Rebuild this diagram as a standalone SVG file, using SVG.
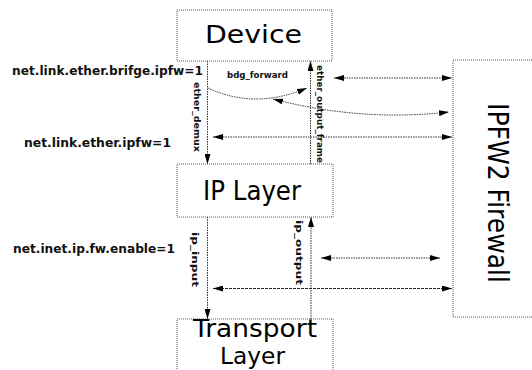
<svg xmlns="http://www.w3.org/2000/svg" width="532" height="370" viewBox="0 0 532 370">
  <style>
    .box { fill: #ffffff; stroke: #555555; stroke-width: 1; stroke-dasharray: 1 1; }
    .big { font-family: "DejaVu Sans", sans-serif; fill: #000000; }
    .param { font-family: "DejaVu Sans", sans-serif; font-weight: bold; font-size: 12px; fill: #111111; }
    .fn { font-family: "DejaVu Sans", sans-serif; font-weight: bold; font-size: 9px; fill: #111111; }
    .link { fill: none; stroke: #333333; stroke-width: 1; stroke-dasharray: 1.5 1; }
    .solid { stroke: #222222; stroke-dasharray: 3 1; }
  </style>
  <defs>
    <marker id="head" viewBox="0 0 10 6" refX="10" refY="3" markerWidth="10" markerHeight="6" markerUnits="userSpaceOnUse" orient="auto-start-reverse">
      <path d="M0,0 L10,3 L0,6 Z" fill="#000000"/>
    </marker>
  </defs>

  <!-- nodes -->
  <g id="device">
    <rect class="box" x="177" y="10" width="155" height="51"/>
    <text class="big" x="205" y="43" font-size="25" textLength="97" lengthAdjust="spacingAndGlyphs">Device</text>
  </g>
  <g id="ip-layer">
    <rect class="box" x="177" y="164" width="156" height="53"/>
    <text class="big" x="203" y="200" font-size="26" textLength="98" lengthAdjust="spacingAndGlyphs">IP Layer</text>
  </g>
  <g id="transport-layer">
    <rect class="box" x="177" y="319" width="156" height="60"/>
    <text class="big" x="193" y="337" font-size="24" textLength="124" lengthAdjust="spacingAndGlyphs">Transport</text>
    <text class="big" x="220" y="364" font-size="23" textLength="65" lengthAdjust="spacingAndGlyphs">Layer</text>
  </g>
  <g id="ipfw2-firewall">
    <rect class="box" x="453" y="60" width="100" height="257"/>
    <text class="big" transform="translate(488,103) rotate(90)" font-size="28" textLength="180" lengthAdjust="spacingAndGlyphs">IPFW2 Firewall</text>
  </g>

  <!-- sysctl switches -->
  <g id="sysctls">
    <text class="param" x="12" y="75" textLength="191" lengthAdjust="spacingAndGlyphs">net.link.ether.brifge.ipfw=1</text>
    <text class="param" x="24" y="147" textLength="147" lengthAdjust="spacingAndGlyphs">net.link.ether.ipfw=1</text>
    <text class="param" x="13" y="253" textLength="162" lengthAdjust="spacingAndGlyphs">net.inet.ip.fw.enable=1</text>
  </g>

  <!-- connectors -->
  <g id="connectors">
    <!-- packet path between layers -->
    <line class="link" x1="207.5" y1="61" x2="207.5" y2="164" marker-end="url(#head)"/>
    <line class="link" x1="310.5" y1="164" x2="310.5" y2="61" marker-end="url(#head)"/>
    <line class="link" x1="207.5" y1="217" x2="207.5" y2="319" marker-end="url(#head)"/>
    <line class="link" x1="311" y1="319" x2="311" y2="217" marker-end="url(#head)"/>

    <!-- bridge forward -->
    <path class="link" d="M208,88 Q255,110 307,88" marker-end="url(#head)"/>

    <!-- firewall hooks -->
    <line class="link" x1="334" y1="78" x2="452" y2="78" marker-start="url(#head)" marker-end="url(#head)"/>
    <path class="link" d="M273,99 Q361,122 449,112" marker-start="url(#head)" marker-end="url(#head)"/>
    <line class="link" x1="213" y1="137" x2="452" y2="137" marker-start="url(#head)" marker-end="url(#head)"/>
    <line class="link" x1="321" y1="258" x2="440" y2="258" marker-start="url(#head)" marker-end="url(#head)"/>
    <line class="link solid" x1="213" y1="288.5" x2="452" y2="288.5" marker-start="url(#head)" marker-end="url(#head)"/>

    <!-- function labels -->
    <text class="fn" transform="translate(193.5,82) rotate(90)" textLength="70" lengthAdjust="spacingAndGlyphs">ether_demux</text>
    <text class="fn" transform="translate(316.5,65) rotate(90)" textLength="98" lengthAdjust="spacingAndGlyphs">ether_output_frame</text>
    <text class="fn" transform="translate(192,232) rotate(90)" textLength="55" lengthAdjust="spacingAndGlyphs">ip_input</text>
    <text class="fn" transform="translate(295.5,220) rotate(90)" textLength="65" lengthAdjust="spacingAndGlyphs">ip_output</text>
    <text class="fn" x="227" y="78" font-size="8" textLength="61" lengthAdjust="spacingAndGlyphs">bdg_forward</text>
  </g>
</svg>
